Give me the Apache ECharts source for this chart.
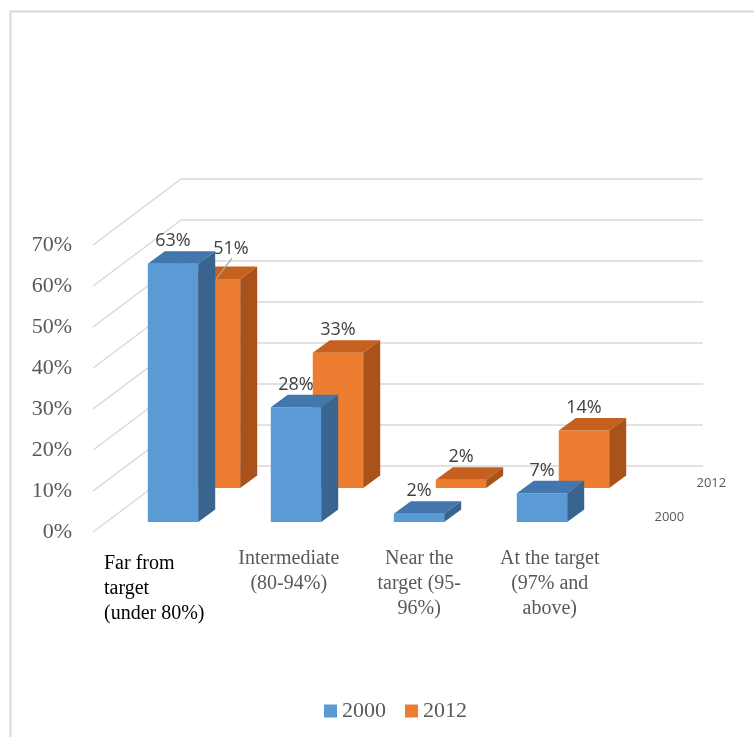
<!DOCTYPE html>
<html>
<head>
<meta charset="utf-8">
<script src="https://cdn.jsdelivr.net/npm/echarts@6/dist/echarts.min.js"></script>
<style>
html,body{margin:0;padding:0;background:#fff;}
#chart{width:754px;height:737px;}
</style>
</head>
<body>
<div id="chart"></div>
<script>
const categories = ['Far from\ntarget\n(under 80%)', 'Intermediate\n(80-94%)', 'Near the\ntarget (95-\n96%)', 'At the target\n(97% and\nabove)'];
const seriesNames = ['2000', '2012'];
const values2000 = [0.63, 0.28, 0.02, 0.07];
const values2012 = [0.51, 0.33, 0.02, 0.14];
const yTicks = [0, 0.1, 0.2, 0.3, 0.4, 0.5, 0.6, 0.7];

const chart = echarts.init(document.getElementById('chart'));

const WALL = [88, -66];
const BAR_DEPTH = [17, -12.5];
const SERIF = '"Liberation Serif", "Times New Roman", serif';
const SANS = '"Open Sans", "Noto Sans", sans-serif';

function pct(v) { return Math.round(v * 100) + '%'; }

function makeBarRender(depth, colors, otherValues, rowName) {
  return function (params, api) {
    const idx = api.value(0);
    const v = api.value(1);
    const base = api.coord([idx, 0]);
    const top = api.coord([idx, v]);
    const band = api.size([1, 0])[0];
    const w = band * 0.41;
    const x0 = base[0] - w / 2 + depth[0];
    const x1 = x0 + w;
    const yb = base[1] + depth[1];
    const yt = top[1] + depth[1];
    const bx = BAR_DEPTH[0], by = BAR_DEPTH[1];
    const children = [
      { type: 'rect', shape: { x: x0, y: yt, width: w, height: yb - yt }, style: { fill: colors[0] } },
      { type: 'polygon', shape: { points: [[x0, yt], [x1, yt], [x1 + bx, yt + by], [x0 + bx, yt + by]] }, style: { fill: colors[1] } },
      { type: 'polygon', shape: { points: [[x1, yt], [x1 + bx, yt + by], [x1 + bx, yb + by], [x1, yb]] }, style: { fill: colors[2] } }
    ];
    const cx = x0 + w / 2;
    let ly = yt + by - 10;
    let lx = cx;
    if (otherValues && otherValues[idx] > v) {
      // label would be hidden by the front bar: pull it out with a leader line
      lx = cx + 16;
      ly = ly - 8;
      children.push({ type: 'line', shape: { x1: lx + 1, y1: ly + 10, x2: cx + 1, y2: yt }, style: { stroke: '#a6a6a6', lineWidth: 1.2 } });
    }
    children.push({
      type: 'text', z2: 10,
      style: { x: lx, y: ly, text: pct(v), fill: '#404040', font: '18px ' + SANS, align: 'center', verticalAlign: 'middle' }
    });
    if (idx === categories.length - 1) {
      const cs = params.coordSys;
      children.push({
        type: 'text',
        style: { x: cs.x + cs.width + depth[0] + 51, y: yb - 5, text: rowName, fill: '#595959', font: '13px ' + SANS, align: 'left', verticalAlign: 'middle' }
      });
    }
    return { type: 'group', children: children };
  };
}

const option = {
  animation: false,
  backgroundColor: '#ffffff',
  graphic: [{
    type: 'rect', left: 8, top: 9, silent: true,
    shape: { width: 800, height: 800 },
    style: { fill: 'none', stroke: '#d9d9d9', lineWidth: 2 }
  }],
  legend: {
    data: [{ name: seriesNames[0], icon: 'rect' }, { name: seriesNames[1], icon: 'rect' }],
    left: 319, top: 695,
    itemWidth: 13, itemHeight: 13, itemGap: 19,
    textStyle: { fontFamily: SERIF, fontSize: 22, color: '#595959' }
  },
  grid: [
    { left: 93, right: 139, top: 245, bottom: 205 },
    { left: 181, right: 51, top: 179, bottom: 271 },
    { left: 98.5, right: 163.5, top: 245, bottom: 205 }
  ],
  xAxis: [
    {
      gridIndex: 0, type: 'category', data: categories,
      axisLine: { show: false }, axisTick: { show: false },
      axisLabel: {
        interval: 0, margin: 14, fontFamily: SERIF, fontSize: 20, lineHeight: 25, color: '#595959',
        formatter: function (val, i) {
          if (i === 0) return '{s| }\n' + val.split('\n').map(function (s) { return '{l|' + s + '}'; }).join('\n');
          return val;
        },
        rich: {
          s: { fontSize: 1, lineHeight: 5 },
          l: { align: 'left', color: '#000000', fontFamily: SERIF, fontSize: 20, lineHeight: 25, padding: [0, 8, 0, 0] }
        }
      }
    },
    { gridIndex: 1, type: 'category', data: categories, show: false },
    { gridIndex: 2, type: 'category', data: categories, show: false }
  ],
  yAxis: [
    {
      gridIndex: 0, type: 'value', min: 0, max: 0.7, interval: 0.1,
      axisLine: { show: false }, axisTick: { show: false }, splitLine: { show: false },
      axisLabel: { formatter: pct, margin: 21, fontFamily: SERIF, fontSize: 22, color: '#595959' }
    },
    {
      gridIndex: 1, type: 'value', min: 0, max: 0.7, interval: 0.1,
      axisLine: { show: false }, axisTick: { show: false }, axisLabel: { show: false },
      splitLine: { show: true, lineStyle: { color: '#d9d9d9', width: 1.5 } }
    },
    { gridIndex: 2, type: 'value', min: 0, max: 0.7, interval: 0.1, show: false, splitLine: { show: false } }
  ],
  series: [
    {
      type: 'custom', name: 'walls', xAxisIndex: 0, yAxisIndex: 0, z: 1, silent: true,
      data: yTicks.map(function (v) { return [0, v]; }),
      renderItem: function (params, api) {
        const y = api.coord([0, api.value(1)])[1];
        const x = params.coordSys.x;
        return { type: 'line', shape: { x1: x, y1: y, x2: x + WALL[0], y2: y + WALL[1] }, style: { stroke: '#d9d9d9', lineWidth: 1.5 } };
      }
    },
    {
      type: 'custom', name: seriesNames[1], xAxisIndex: 2, yAxisIndex: 2, z: 2, clip: false,
      itemStyle: { color: '#ED7D31' },
      data: values2012.map(function (v, i) { return [i, v]; }),
      renderItem: makeBarRender([55, -44], ['#ED7D31', '#C6601E', '#A9531B'], values2000, seriesNames[1])
    },
    {
      type: 'custom', name: seriesNames[0], xAxisIndex: 2, yAxisIndex: 2, z: 3, clip: false,
      itemStyle: { color: '#5B9BD5' },
      data: values2000.map(function (v, i) { return [i, v]; }),
      renderItem: makeBarRender([13, -10], ['#5B9BD5', '#4376AC', '#38648F'], null, seriesNames[0])
    }
  ]
};
chart.setOption(option);
</script>
</body>
</html>
